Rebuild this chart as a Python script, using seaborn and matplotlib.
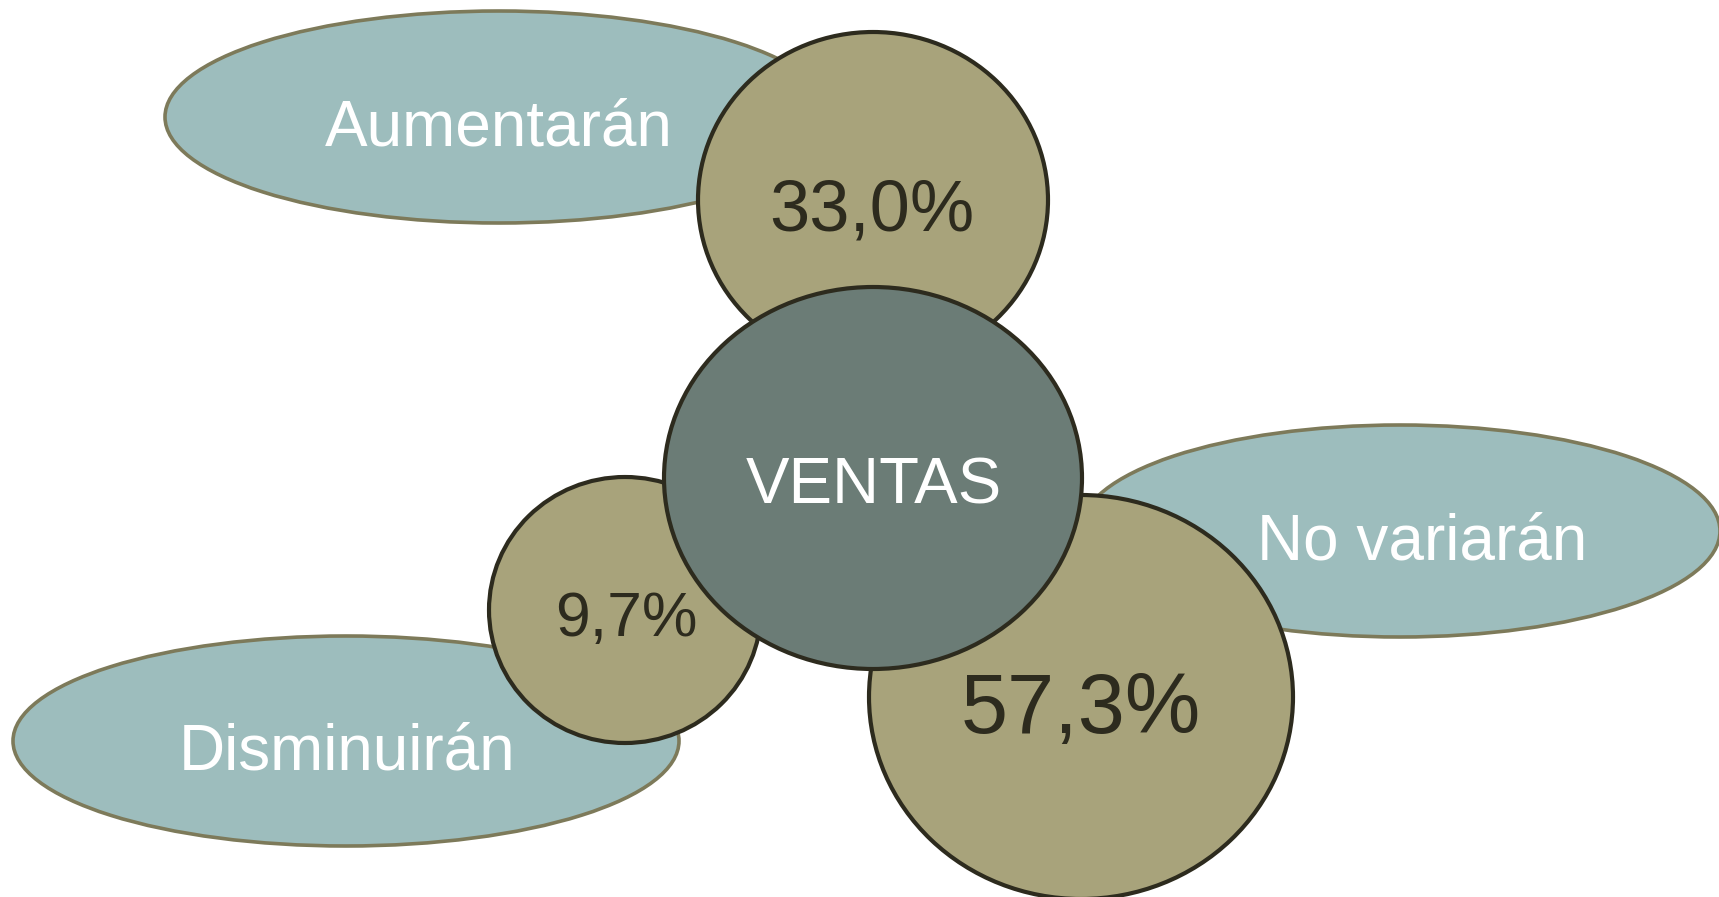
import matplotlib
matplotlib.use("Agg")
import matplotlib.pyplot as plt
from matplotlib.patches import Ellipse
import seaborn as sns

# datos del grafico
categorias = ["Aumentarán", "No variarán", "Disminuirán"]
porcentajes = [33.0, 57.3, 9.7]
centro = "VENTAS"

# colores
azul = "#9dbdbd"
borde_azul = "#7d7a5a"
oliva = "#a8a37b"
gris = "#6b7c76"
borde_oscuro = "#2d2b1e"

sns.set_theme(style="white")
plt.rcParams["font.family"] = ["Liberation Sans", "DejaVu Sans"]

fig = plt.figure(figsize=(17.19, 8.97), dpi=100)
ax = fig.add_axes([0, 0, 1, 1])
ax.set_xlim(0, 1719)
ax.set_ylim(897, 0)
ax.axis("off")

# elipses de etiquetas (centro, ancho, alto, texto)
etiquetas = [
    ((499, 117), 668, 212, (499, 145)),
    ((1400, 531), 640, 212, (1422, 559)),
    ((346, 741), 666, 210, (347, 770)),
]
# circulos de porcentaje (centro, ancho, alto, texto, tamaño de letra)
circulos = [
    ((873, 200), 350, 336, (872, 231), 52),
    ((1081, 697), 424, 404, (1081, 733), 61),
    ((625, 610), 272, 266, (626, 636), 45),
]

for cat, (c, w, h, t) in zip(categorias, etiquetas):
    ax.add_patch(Ellipse(c, w, h, facecolor=azul, edgecolor=borde_azul,
                         linewidth=2.6, zorder=1))
    ax.text(t[0], t[1], cat, color="white", fontsize=46,
            ha="center", va="baseline", zorder=5)

for val, (c, w, h, t, fs) in zip(porcentajes, circulos):
    ax.add_patch(Ellipse(c, w, h, facecolor=oliva, edgecolor=borde_oscuro,
                         linewidth=3.0, zorder=2))
    etiqueta = f"{val:.1f}".replace(".", ",") + "%"
    ax.text(t[0], t[1], etiqueta, color=borde_oscuro, fontsize=fs,
            ha="center", va="baseline", zorder=5)

ax.add_patch(Ellipse((873, 478), 418, 382, facecolor=gris,
                     edgecolor=borde_oscuro, linewidth=3.0, zorder=3))
ax.text(874, 504, centro, color="white", fontsize=47,
        ha="center", va="baseline", zorder=5)

fig.savefig("out.png", dpi=100, facecolor="white")
